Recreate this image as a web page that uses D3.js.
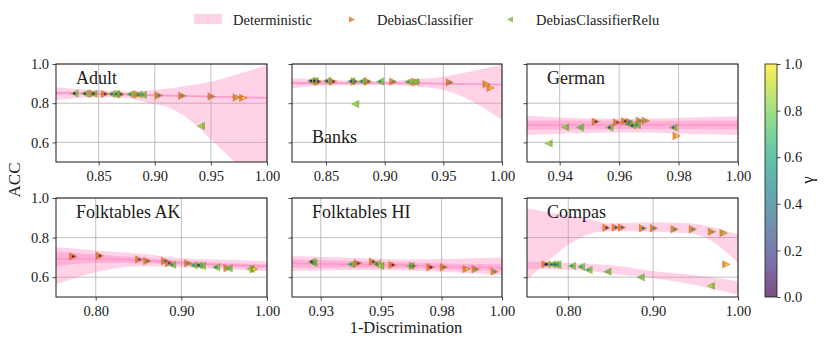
<!DOCTYPE html>
<html>
<head>
<meta charset="utf-8">
<script src="https://cdn.jsdelivr.net/npm/d3@7"></script>
<style>
  body { margin: 0; background: #fff; }
  svg { display: block; }
</style>
</head>
<body>
<svg id="chart"></svg>
<script>
// ---- data ----
const titles = ['Adult', 'Banks', 'German', 'Folktables AK', 'Folktables HI', 'Compas'];
const xDomains = [[0.812, 1.0], [0.821, 1.0], [0.929, 1.0], [0.7536, 1.0], [0.9131, 1.0], [0.7514, 1.0]];
const xTickValues = [[0.85, 0.90, 0.95, 1.0], [0.85, 0.90, 0.95, 1.0], [0.94, 0.96, 0.98, 1.0],
                     [0.80, 0.90, 1.0], [0.925, 0.95, 0.975, 1.0], [0.80, 0.90, 1.0]];
const xTickLabels = [['0.85', '0.90', '0.95', '1.00'], ['0.85', '0.90', '0.95', '1.00'], ['0.94', '0.96', '0.98', '1.00'],
                     ['0.80', '0.90', '1.00'], ['0.93', '0.95', '0.98', '1.00'], ['0.80', '0.90', '1.00']];
const yDomain = [0.5, 1.0];
const yTickValues = [0.6, 0.8, 1.0];
const yTickLabels = ['0.6', '0.8', '1.0'];
const gammaTicks = [0, 0.2, 0.4, 0.6, 0.8, 1.0];
const gammaTickLabels = ['0.0', '0.2', '0.4', '0.6', '0.8', '1.0'];

// Deterministic bands: [x, outerLo, outerHi, innerLo, innerHi]
const adultBand = [[0.812, 0.816, 0.882, 0.845, 0.860], [0.85, 0.832, 0.866, 0.842, 0.854], [0.875, 0.826, 0.860, 0.839, 0.850],
                   [0.895, 0.800, 0.865, 0.836, 0.846], [0.9136, 0.775, 0.876, 0.834, 0.843], [0.93, 0.720, 0.890, 0.832, 0.841],
                   [0.95, 0.615, 0.910, 0.829, 0.838], [0.975, 0.480, 0.950, 0.826, 0.835], [1.0, 0.330, 0.995, 0.823, 0.832]];
const banksBand = [[0.821, 0.876, 0.927, 0.895, 0.910], [0.85, 0.890, 0.920, 0.897, 0.907], [0.90, 0.893, 0.913, 0.898, 0.906],
                   [0.925, 0.885, 0.922, 0.897, 0.905], [0.95, 0.867, 0.935, 0.896, 0.904], [0.975, 0.808, 0.964, 0.894, 0.902],
                   [1.0, 0.714, 0.998, 0.890, 0.899]];
const germanBand = [[0.929, 0.638, 0.736, 0.665, 0.712], [0.95, 0.648, 0.722, 0.667, 0.711], [0.965, 0.650, 0.720, 0.668, 0.710],
                    [0.98, 0.646, 0.725, 0.667, 0.711], [1.0, 0.638, 0.733, 0.666, 0.712]];
const akBand = [[0.7536, 0.564, 0.751, 0.655, 0.730], [0.80, 0.625, 0.735, 0.672, 0.715], [0.85, 0.655, 0.720, 0.672, 0.700],
                [0.90, 0.650, 0.697, 0.662, 0.684], [0.95, 0.640, 0.688, 0.652, 0.672], [1.0, 0.631, 0.682, 0.645, 0.666]];
const hiBand = [[0.9131, 0.631, 0.707, 0.648, 0.690], [0.94, 0.636, 0.697, 0.648, 0.682], [0.96, 0.634, 0.690, 0.645, 0.675],
                [0.98, 0.625, 0.693, 0.638, 0.668], [1.0, 0.611, 0.700, 0.632, 0.665]];
const compasBandUpper = [[0.7514, 0.586, 0.948], [0.773, 0.670, 0.930], [0.80, 0.763, 0.910], [0.828, 0.822, 0.890],
                         [0.845, 0.832, 0.872], [0.90, 0.830, 0.876], [0.943, 0.822, 0.872], [0.967, 0.788, 0.855], [1.0, 0.670, 0.817]];
const compasBandLower = [[0.7514, 0.641, 0.678], [0.80, 0.638, 0.672], [0.867, 0.611, 0.653], [0.884, 0.603, 0.640],
                         [0.95, 0.560, 0.610], [1.0, 0.510, 0.580]];

// DebiasClassifier points: [1-Discrimination, ACC, gamma]
const adultDC = [[0.8452, 0.848, 0.2], [0.8557, 0.847, 0.15], [0.8699, 0.846, 0.3], [0.8854, 0.844, 0.4], [0.9038, 0.839, 0.55],
                 [0.9246, 0.838, 0.6], [0.9508, 0.834, 0.65], [0.9731, 0.829, 0.8], [0.979, 0.827, 1.0]];
const banksDC = [[0.8434, 0.911, 0.1], [0.8562, 0.911, 0.15], [0.8747, 0.911, 0.3], [0.886, 0.911, 0.35], [0.9074, 0.910, 0.5],
                 [0.9273, 0.908, 0.75], [0.9557, 0.906, 0.55], [0.987, 0.897, 0.85], [0.9904, 0.878, 0.95]];
const germanDC = [[0.9522, 0.706, 0.1], [0.9594, 0.702, 0.3], [0.962, 0.708, 0.15], [0.9635, 0.705, 0.5], [0.967, 0.711, 0.6],
                  [0.969, 0.711, 0.7], [0.9794, 0.633, 0.95]];
const akDC = [[0.7739, 0.705, 0.05], [0.805, 0.708, 0.15], [0.851, 0.690, 0.3], [0.8604, 0.682, 0.4], [0.8811, 0.682, 0.45],
              [0.886, 0.672, 0.2], [0.9083, 0.670, 0.6], [0.954, 0.645, 0.7], [0.985, 0.640, 0.95]];
const hiDC = [[0.9405, 0.670, 0.15], [0.9467, 0.678, 0.2], [0.9548, 0.662, 0.1], [0.9633, 0.657, 0.35], [0.9705, 0.650, 0.1],
              [0.976, 0.650, 0.5], [0.9854, 0.641, 0.9], [0.9892, 0.640, 0.6], [0.997, 0.628, 0.6]];
const compasDC = [[0.7735, 0.665, 0.05], [0.8452, 0.850, 0.1], [0.8561, 0.851, 0.2], [0.8635, 0.851, 0.3], [0.8882, 0.847, 0.35],
                  [0.9012, 0.847, 0.5], [0.9255, 0.842, 0.55], [0.9471, 0.842, 0.6], [0.9694, 0.830, 0.7], [0.9832, 0.823, 0.8],
                  [0.9863, 0.665, 0.95]];

// DebiasClassifierRelu points: [1-Discrimination, ACC, gamma]
const adultDCR = [[0.8283, 0.850, 0.05], [0.8376, 0.849, 0.1], [0.8452, 0.848, 0.2], [0.8616, 0.847, 0.35], [0.8655, 0.847, 0.4],
                  [0.878, 0.846, 0.5], [0.8854, 0.844, 0.55], [0.8893, 0.843, 0.6], [0.941, 0.684, 0.9]];
const banksDCR = [[0.837, 0.913, 0.05], [0.840, 0.913, 0.1], [0.8506, 0.913, 0.15], [0.8713, 0.912, 0.2], [0.8804, 0.912, 0.45],
                  [0.896, 0.911, 0.5], [0.9201, 0.909, 0.6], [0.9259, 0.909, 0.8], [0.8747, 0.796, 0.9]];
const germanDCR = [[0.9362, 0.595, 0.9], [0.9418, 0.677, 0.8], [0.9468, 0.676, 0.7], [0.9567, 0.676, 0.2], [0.9631, 0.694, 0.45],
                   [0.9644, 0.686, 0.15], [0.9659, 0.689, 0.5], [0.9782, 0.676, 0.3]];
const akDCR = [[0.889, 0.662, 0.5], [0.914, 0.660, 0.55], [0.92, 0.660, 0.1], [0.924, 0.657, 0.65], [0.9404, 0.650, 0.45],
               [0.955, 0.645, 0.7], [0.9805, 0.642, 0.8]];
const hiDCR = [[0.9212, 0.678, 0.05], [0.9219, 0.672, 0.5], [0.9374, 0.665, 0.55], [0.9481, 0.667, 0.4], [0.9495, 0.658, 0.9],
               [0.962, 0.657, 0.6]];
const compasDCR = [[0.7746, 0.665, 0.05], [0.7805, 0.665, 0.2], [0.7843, 0.665, 0.3], [0.787, 0.663, 0.55], [0.804, 0.657, 0.5],
                   [0.8149, 0.653, 0.55], [0.8236, 0.636, 0.6], [0.846, 0.628, 0.7], [0.8852, 0.600, 0.75], [0.9679, 0.556, 0.9]];

const bands = [[adultBand], [banksBand], [germanBand], [akBand], [hiBand], [compasBandUpper, compasBandLower]];
const dcSeries = [adultDC, banksDC, germanDC, akDC, hiDC, compasDC];
const dcrSeries = [adultDCR, banksDCR, germanDCR, akDCR, hiDCR, compasDCR];

// ---- layout ----
const width = 831, height = 343;
const colLeft = [56, 292, 527], colRight = [267, 502, 738];
const rowTop = [64, 198], rowBottom = [162, 297];
const pink = '#ff69b4', orange = '#d95f02', green = '#66a61e';
const ink = '#1a1a1a', gridColor = '#b0b0b0';
const serif = "'Liberation Serif'";
const tickFont = 14.5;

const svg = d3.select('#chart').attr('width', width).attr('height', height);
const defs = svg.append('defs');

const triRight = h => `M${h},0L${-h},${h}L${-h},${-h}Z`;
const triLeft = h => `M${-h},0L${h},${-h}L${h},${h}Z`;

titles.forEach((title, i) => {
    const col = i % 3, row = Math.floor(i / 3);
    const left = colLeft[col], right = colRight[col], top = rowTop[row], bottom = rowBottom[row];

    const xscale = d3.scaleLinear().domain(xDomains[i]).range([left, right]);
    const yscale = d3.scaleLinear().domain(yDomain).range([bottom, top]);

    const g = svg.append('g');

    // grid
    g.selectAll('.vgrid').data(xTickValues[i]).enter().append('line')
        .attr('x1', d => xscale(d)).attr('x2', d => xscale(d))
        .attr('y1', top).attr('y2', bottom)
        .attr('stroke', gridColor).attr('stroke-width', 0.8);
    g.selectAll('.hgrid').data(yTickValues).enter().append('line')
        .attr('x1', left).attr('x2', right)
        .attr('y1', d => yscale(d)).attr('y2', d => yscale(d))
        .attr('stroke', gridColor).attr('stroke-width', 0.8);

    defs.append('clipPath').attr('id', 'clip' + i)
        .append('rect').attr('x', left).attr('y', top)
        .attr('width', right - left).attr('height', bottom - top);
    const plot = g.append('g').attr('clip-path', `url(#clip${i})`);

    // deterministic bands
    bands[i].forEach(band => {
        const outer = d3.area().x(d => xscale(d[0])).y0(d => yscale(d[1])).y1(d => yscale(d[2]))
            .curve(d3.curveMonotoneX);
        plot.append('path').attr('d', outer(band)).attr('fill', pink).attr('fill-opacity', 0.3);
        if (band[0].length > 3) {
            const inner = d3.area().x(d => xscale(d[0])).y0(d => yscale(d[3])).y1(d => yscale(d[4]))
                .curve(d3.curveMonotoneX);
            plot.append('path').attr('d', inner(band)).attr('fill', pink).attr('fill-opacity', 0.3);
            const line = d3.line().x(d => xscale(d[0])).y(d => yscale((d[3] + d[4]) / 2))
                .curve(d3.curveMonotoneX);
            plot.append('path').attr('d', line(band)).attr('fill', 'none')
                .attr('stroke', pink).attr('stroke-opacity', 0.35).attr('stroke-width', 1.6);
        }
    });

    // markers
    plot.selectAll('.dc').data(dcSeries[i]).enter().append('path')
        .attr('d', triRight(4.2))
        .attr('transform', d => `translate(${xscale(d[0])},${yscale(d[1])})`)
        .attr('fill', orange).attr('fill-opacity', 0.7);
    plot.selectAll('.dcr').data(dcrSeries[i]).enter().append('path')
        .attr('d', triLeft(4.2))
        .attr('transform', d => `translate(${xscale(d[0])},${yscale(d[1])})`)
        .attr('fill', green).attr('fill-opacity', 0.7);
    plot.selectAll('.gdot').data(dcSeries[i].concat(dcrSeries[i])).enter().append('circle')
        .attr('cx', d => xscale(d[0])).attr('cy', d => yscale(d[1])).attr('r', 1.2)
        .attr('fill', d => d3.interpolateViridis(d[2]));

    // axes
    const xaxis = d3.axisBottom(xscale).tickValues(xTickValues[i])
        .tickFormat((d, k) => xTickLabels[i][k])
        .tickSize(3.5).tickSizeOuter(0).tickPadding(5);
    const xg = g.append('g').attr('transform', `translate(0,${bottom})`).call(xaxis);
    const yaxis = d3.axisLeft(yscale).tickValues(yTickValues)
        .tickFormat((d, k) => col === 0 ? yTickLabels[k] : '')
        .tickSize(3.5).tickSizeOuter(0).tickPadding(3.5);
    const yg = g.append('g').attr('transform', `translate(${left},0)`).call(yaxis);
    [xg, yg].forEach(a => {
        a.select('.domain').remove();
        a.selectAll('line').attr('stroke', ink).attr('stroke-width', 0.8);
        a.selectAll('text').attr('fill', ink).attr('font-size', tickFont);
    });

    // spines
    g.append('rect').attr('x', left).attr('y', top)
        .attr('width', right - left).attr('height', bottom - top)
        .attr('fill', 'none').attr('stroke', ink).attr('stroke-width', 1);

    // panel title
    g.append('text')
        .attr('x', left + 20)
        .attr('y', i === 1 ? bottom - 19 : top + 20)
        .attr('font-size', 18).attr('fill', ink)
        .text(title);
});

// axis labels
svg.append('text')
    .attr('transform', 'translate(20,180) rotate(-90)')
    .attr('text-anchor', 'middle').attr('font-size', 17).attr('fill', ink)
    .text('ACC');
svg.append('text')
    .attr('x', 406).attr('y', 333)
    .attr('text-anchor', 'middle').attr('font-size', 16.5).attr('fill', ink)
    .text('1-Discrimination');

// colorbar
const cbLeft = 765, cbRight = 777, cbTop = 64, cbBottom = 297;
const grad = defs.append('linearGradient').attr('id', 'viridis')
    .attr('x1', 0).attr('y1', 1).attr('x2', 0).attr('y2', 0);
d3.range(0, 1.0001, 0.05).forEach(t => {
    grad.append('stop').attr('offset', t).attr('stop-color', d3.interpolateViridis(t));
});
svg.append('rect').attr('x', cbLeft).attr('y', cbTop)
    .attr('width', cbRight - cbLeft).attr('height', cbBottom - cbTop)
    .attr('fill', 'url(#viridis)').attr('fill-opacity', 0.7);
svg.append('rect').attr('x', cbLeft).attr('y', cbTop)
    .attr('width', cbRight - cbLeft).attr('height', cbBottom - cbTop)
    .attr('fill', 'none').attr('stroke', ink).attr('stroke-width', 0.8);
const gscale = d3.scaleLinear().domain([0, 1]).range([cbBottom, cbTop]);
const cbaxis = d3.axisRight(gscale).tickValues(gammaTicks)
    .tickFormat((d, k) => gammaTickLabels[k])
    .tickSize(3.5).tickSizeOuter(0).tickPadding(3.5);
const cbg = svg.append('g').attr('transform', `translate(${cbRight},0)`).call(cbaxis);
cbg.select('.domain').remove();
cbg.selectAll('line').attr('stroke', ink).attr('stroke-width', 0.8);
cbg.selectAll('text').attr('fill', ink).attr('font-size', tickFont);
svg.append('text')
    .attr('transform', 'translate(813,180) rotate(-90)')
    .attr('text-anchor', 'middle').attr('font-size', 17).attr('fill', ink)
    .text('γ');

// legend
const legend = svg.append('g');
legend.append('rect').attr('x', 194).attr('y', 14).attr('width', 28).attr('height', 10)
    .attr('fill', pink).attr('fill-opacity', 0.3);
legend.append('text').attr('x', 233).attr('y', 24.5).text('Deterministic');
legend.append('path').attr('d', triRight(3)).attr('transform', 'translate(352,19.5)')
    .attr('fill', orange).attr('fill-opacity', 0.7);
legend.append('text').attr('x', 377).attr('y', 24.5).text('DebiasClassifier');
legend.append('path').attr('d', triLeft(3)).attr('transform', 'translate(510,19.5)')
    .attr('fill', green).attr('fill-opacity', 0.7);
legend.append('text').attr('x', 536).attr('y', 24.5).text('DebiasClassifierRelu');
legend.selectAll('text').attr('font-size', 14.5).attr('fill', ink);

// serif face on every text element
svg.selectAll('text').attr('font-family', serif);
</script>
</body>
</html>
